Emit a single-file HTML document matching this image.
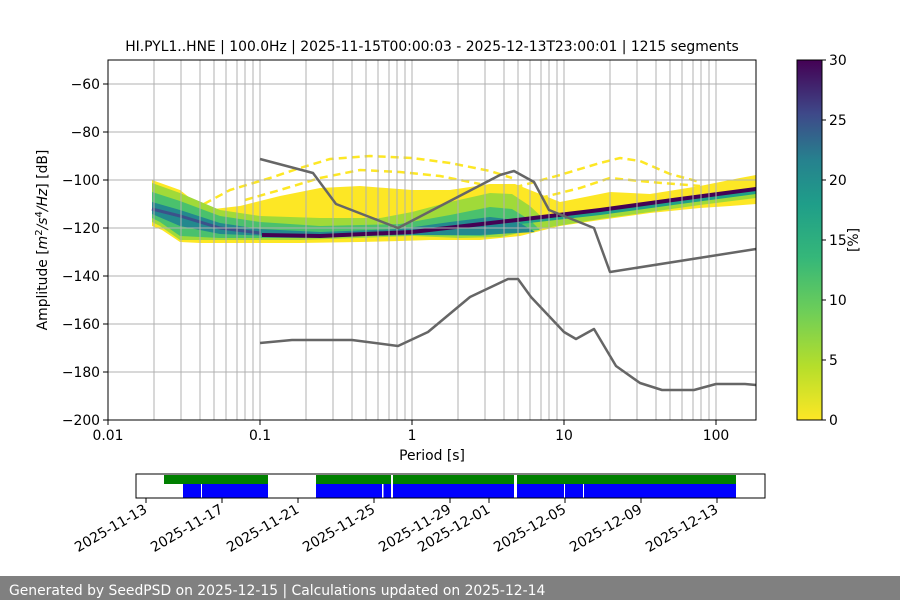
<!DOCTYPE html>
<html><head><meta charset="utf-8"><style>
body{margin:0;background:#fff;}
svg text{font-family:"DejaVu Sans","Liberation Sans",sans-serif;fill:#000;}
</style></head><body>
<svg width="900" height="600" viewBox="0 0 900 600" xmlns="http://www.w3.org/2000/svg">
<defs><linearGradient id="vir" x1="0" y1="1" x2="0" y2="0">
<stop offset="0" stop-color="#fde725"/><stop offset="0.15" stop-color="#b5de2b"/><stop offset="0.3" stop-color="#6ece58"/><stop offset="0.45" stop-color="#35b779"/><stop offset="0.6" stop-color="#1f9e89"/><stop offset="0.72" stop-color="#26828e"/><stop offset="0.85" stop-color="#3e4989"/><stop offset="1" stop-color="#440154"/></linearGradient>
<clipPath id="pc"><rect x="108" y="60" width="648" height="360"/></clipPath></defs>
<text x="432" y="51" font-size="13.9" text-anchor="middle">HI.PYL1..HNE | 100.0Hz | 2025-11-15T00:00:03 - 2025-12-13T23:00:01 | 1215 segments</text>
<g clip-path="url(#pc)">
<!-- yellow sparse -->
<g fill="none" stroke="#fde725" stroke-width="2.5" stroke-dasharray="8 5">
<path d="M204,204 L230,190 L270,178 L300,168 L330,159 L370,156 L412,158 L450,163 L490,171 L512,178"/>
<path d="M245,200 L280,190 L320,178 L360,170 L400,172 L440,176 L480,184"/>
<path d="M490,196 L520,186 L560,175 L600,163 L620,158 L640,161 L670,174 L700,182"/>
<path d="M540,198 L580,188 L610,178 L650,182 L700,186"/>
</g>
<path fill="#fde725" d="M152,180 L180,190 L205,210 L240,206 L280,196 L320,188 L360,186 L412,190 L450,190 L490,184 L515,184 L540,194 L560,202 L580,198 L610,192 L650,194 L700,186 L740,178 L756,175 L756,204 L730,206 L700,208 L650,213 L600,220 L560,226 L520,236 L480,240 L430,240 L400,241 L360,242 L300,243 L260,243 L200,243 L180,242 L162,230 L152,226Z"/>
<path fill="#a0da39" d="M152,183 L180,193 L220,210 L260,216 L320,218 L380,218 L412,212 L450,202 L490,193 L512,194 L530,206 L545,220 L600,212 L650,204 L700,196 L756,187 L756,198 L700,205 L650,212 L600,219 L545,228 L500,237 L460,238 L412,236 L300,240 L220,240 L180,240 L160,226 L152,222Z"/>
<path fill="#4ac16d" d="M152,192 L180,201 L220,216 L260,222 L320,226 L400,224 L450,215 L490,207 L512,209 L530,220 L540,230 L480,236 L412,235 L300,238 L220,238 L180,236 L160,222 L152,218Z"/>
<path fill="#23898e" d="M152,202 L180,210 L220,223 L260,229 L320,232 L400,229 L450,222 L490,217 L515,220 L535,232 L480,235 L412,235 L300,237 L220,234 L180,226 L152,214Z"/>
<path fill="none" stroke="#3b528b" stroke-width="3" d="M152,209 L180,216 L220,228 L260,233"/>
<path fill="none" stroke="#1fa187" stroke-width="6" d="M520,221 L600,212 L680,201 L756,191"/>
<path fill="none" stroke="#440154" stroke-width="4" d="M262,235 L320,236 L412,232 L517,220 L600,210 L680,199 L756,189"/>
</g>
<!-- grid -->
<g stroke="#b0b0b0" stroke-width="1">
<path d="M154,60V420M181,60V420M200,60V420M214,60V420M226,60V420M237,60V420M245,60V420M253,60V420M260,60V420M306,60V420M333,60V420M352,60V420M366,60V420M378,60V420M389,60V420M397,60V420M405,60V420M412,60V420M458,60V420M485,60V420M504,60V420M518,60V420M530,60V420M541,60V420M549,60V420M557,60V420M564,60V420M610,60V420M637,60V420M656,60V420M670,60V420M682,60V420M693,60V420M701,60V420M709,60V420M716,60V420"/>
<path d="M108,84H756M108,132H756M108,180H756M108,228H756M108,276H756M108,324H756M108,372H756"/>
</g>
<g fill="none" stroke="#666" stroke-width="2.5" stroke-linejoin="round">
<polyline points="260,159 313,173 336,204 398,228 500,175 514,171 534,182 549,210 564,216 594,228 610,272 756,249"/>
<polyline points="260,343 292,340 352,340 398,346 428,332 470,297 508,279 518,279 531,297 564,332 576,339 594,329 616,366 640,383 662,390 694,390 716,384 745,384 756,385"/>
</g>
<rect x="108" y="60" width="648" height="360" fill="none" stroke="#000" stroke-width="1"/>
<g stroke="#000"><path d="M103,84H108M103,132H108M103,180H108M103,228H108M103,276H108M103,324H108M103,372H108M103,420H108M108,420V425M260,420V425M412,420V425M564,420V425M716,420V425"/></g>
<g font-size="13.9" text-anchor="end">
<text x="100" y="89">−60</text><text x="100" y="137">−80</text><text x="100" y="185">−100</text><text x="100" y="233">−120</text><text x="100" y="281">−140</text><text x="100" y="329">−160</text><text x="100" y="377">−180</text><text x="100" y="425">−200</text></g>
<g font-size="13.9" text-anchor="middle">
<text x="108" y="440">0.01</text><text x="260" y="440">0.1</text><text x="412" y="440">1</text><text x="564" y="440">10</text><text x="716" y="440">100</text>
<text x="432" y="460">Period [s]</text></g>
<text transform="translate(47,240) rotate(-90)" font-size="13.9" text-anchor="middle">Amplitude [<tspan font-style="italic">m</tspan><tspan font-size="10" dy="-5">2</tspan><tspan dy="5" font-style="italic">/s</tspan><tspan font-size="10" dy="-5">4</tspan><tspan dy="5" font-style="italic">/Hz</tspan>] [dB]</text>
<!-- colorbar -->
<rect x="797" y="60" width="25" height="360" fill="url(#vir)" stroke="#000" stroke-width="1"/>
<g stroke="#000"><path d="M822,60H826M822,120H826M822,180H826M822,240H826M822,300H826M822,360H826M822,420H826"/></g>
<g font-size="13.9"><text x="829" y="65">30</text><text x="829" y="125">25</text><text x="829" y="185">20</text><text x="829" y="245">15</text><text x="829" y="305">10</text><text x="829" y="365">5</text><text x="829" y="425">0</text></g>
<text transform="translate(858,240) rotate(-90)" font-size="13.9" text-anchor="middle">[%]</text>
<!-- timeline -->
<g fill="#008000"><rect x="164" y="475" width="104" height="9"/><rect x="316" y="475" width="198" height="9"/><rect x="517" y="475" width="219" height="9"/></g>
<g fill="#0000ff"><rect x="183" y="484" width="85" height="14"/><rect x="316" y="484" width="198" height="14"/><rect x="517" y="484" width="219" height="14"/></g>
<g fill="#fff"><rect x="201" y="484" width="1" height="14"/><rect x="382" y="484" width="1.5" height="14"/><rect x="391" y="475" width="2" height="23"/><rect x="564" y="484" width="1" height="14"/><rect x="583" y="484" width="1" height="14"/></g>
<rect x="136" y="474" width="629" height="24" fill="none" stroke="#000" stroke-width="1"/>
<g stroke="#000"><path d="M146,498V503M222,498V503M298,498V503M374,498V503M450,498V503M489,498V503M565,498V503M641,498V503M717,498V503"/></g>
<g font-size="13.9" text-anchor="end">
<text transform="translate(148,512) rotate(-30)">2025-11-13</text>
<text transform="translate(224,512) rotate(-30)">2025-11-17</text>
<text transform="translate(300,512) rotate(-30)">2025-11-21</text>
<text transform="translate(376,512) rotate(-30)">2025-11-25</text>
<text transform="translate(452,512) rotate(-30)">2025-11-29</text>
<text transform="translate(491,512) rotate(-30)">2025-12-01</text>
<text transform="translate(567,512) rotate(-30)">2025-12-05</text>
<text transform="translate(643,512) rotate(-30)">2025-12-09</text>
<text transform="translate(719,512) rotate(-30)">2025-12-13</text></g>
<rect x="0" y="576" width="900" height="24" fill="#808080"/>
<text x="9" y="595" font-size="13.9" style="fill:#fff">Generated by SeedPSD on 2025-12-15 | Calculations updated on 2025-12-14</text>
</svg>
</body></html>
